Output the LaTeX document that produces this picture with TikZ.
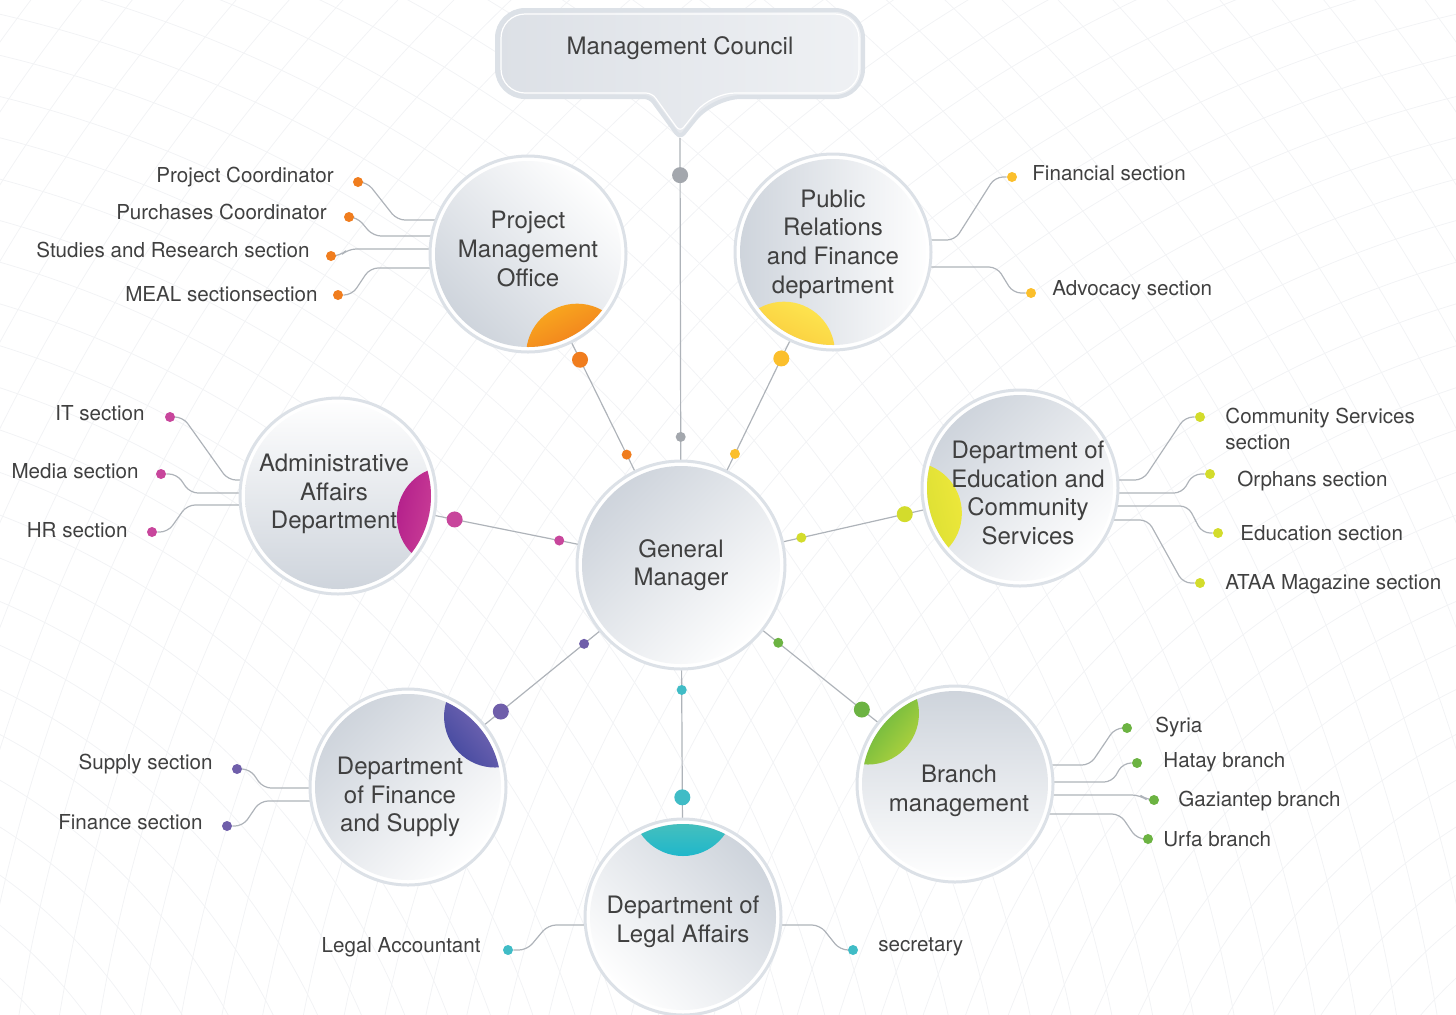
\documentclass[tikz,border=0pt]{standalone}
\usepackage{fontspec}
\setmainfont{TeX Gyre Heros}
\usetikzlibrary{calc,backgrounds}

\definecolor{textgray}{HTML}{404040}
\definecolor{ringgray}{HTML}{DCE1E7}
\definecolor{discgray}{HTML}{CDD3DB}
\definecolor{linkgray}{HTML}{AEB3B9}
\definecolor{meshgray}{HTML}{F2F3F5}
\definecolor{calloutA}{HTML}{DCE0E6}
\definecolor{calloutB}{HTML}{EFF1F4}
\definecolor{councilC}{HTML}{A3A7AD}
\definecolor{orangeA}{HTML}{F8A41E}
\definecolor{orangeB}{HTML}{E84E1C}
\definecolor{orangeC}{HTML}{F07D1E}
\definecolor{yellowA}{HTML}{FDE34E}
\definecolor{yellowB}{HTML}{F7B12A}
\definecolor{yellowC}{HTML}{FBBF2C}
\definecolor{pinkA}{HTML}{EC6BA7}
\definecolor{pinkB}{HTML}{B5228C}
\definecolor{pinkC}{HTML}{C8469C}
\definecolor{limeA}{HTML}{ECE73A}
\definecolor{limeB}{HTML}{C4D42A}
\definecolor{limeC}{HTML}{D3DC2C}
\definecolor{purpleA}{HTML}{A785C7}
\definecolor{purpleB}{HTML}{4A4DA2}
\definecolor{purpleC}{HTML}{6F5EAA}
\definecolor{tealA}{HTML}{97D1A0}
\definecolor{tealB}{HTML}{1FB7CB}
\definecolor{tealC}{HTML}{40BCC6}
\definecolor{greenA}{HTML}{A7CF3D}
\definecolor{greenB}{HTML}{1E9A43}
\definecolor{greenC}{HTML}{6CB342}

\tikzset{
  link/.style={draw=linkgray, line width=0.6pt},
  sidelink/.style={link, rounded corners=4pt},
  bigdot/.style={circle, fill=#1, inner sep=0pt, minimum size=8pt},
  smalldot/.style={circle, fill=#1, inner sep=0pt, minimum size=5pt},
  lab/.style={font=\fontsize{10.3}{13}\selectfont, text=textgray, inner sep=0pt},
  circtext/.style={align=center, text=textgray, inner sep=0pt,
    font=\fontsize{12}{14.3}\selectfont},
  gmcircle/.style={circle, minimum size=104pt, inner sep=0pt, draw=ringgray,
    line width=1.5pt, fill=white, circtext,
    path picture={\shade[top color=white, bottom color=discgray, shading angle=-135]
      (path picture bounding box.center) circle (49.5pt);}},
  deptcircle/.style n args={5}{circle, minimum size=98pt, inner sep=0pt,
    draw=ringgray, line width=1.5pt, fill=white,
    path picture={
      \shade[top color=white, bottom color=discgray, shading angle=#1]
        (path picture bounding box.center) circle (46.5pt);
      \begin{scope}
        \clip (path picture bounding box.center) circle (46.5pt);
        \shade[left color=#3, right color=#4, shading angle=#5]
          ($(path picture bounding box.center)+(#2:56pt)$) circle (25.5pt);
      \end{scope}
    }},
}

\begin{document}
\begin{tikzpicture}[x=0.5pt,y=-0.5pt]
\useasboundingbox (0,0) rectangle (1456,1014);

% council callout
\draw[ringgray, line width=2pt, left color=calloutA, right color=calloutB, rounded corners=14pt]
  (497,10) -- (863,10) -- (863,97) -- (713,97) [rounded corners=3pt] -- (680,138)
  -- (650,97) [rounded corners=14pt] -- (497,97) -- cycle;
\draw[white, line width=0.6pt, rounded corners=12pt]
  (501,14) -- (859,14) -- (859,93) -- (711,93) [rounded corners=3pt] -- (680,132)
  -- (652,93) [rounded corners=12pt] -- (501,93) -- cycle;
\node[font=\fontsize{12}{14}\selectfont, text=textgray] (council) at (680,48) {Management Council};
\coordinate (tip) at (680,138);

% circles
\node[gmcircle] (gm) at (681,565) {General\\Manager};
\node[deptcircle={-45}{-64}{orangeA}{orangeB}{26},
  label={[circtext, yshift=2.5pt]center:{Project\\Management\\Office}}] (pmo) at (528,254) {};
\node[deptcircle={-90}{-116}{yellowA}{yellowB}{-26},
  label={[circtext, yshift=4pt]center:{Public\\Relations\\and Finance\\department}}] (prf) at (833,252) {};
\node[deptcircle={0}{-11}{pinkA}{pinkB}{-101},
  label={[circtext, xshift=-2pt, yshift=1pt]center:{Administrative\\Affairs\\Department}}] (adm) at (338,496) {};
\node[deptcircle={-135}{193}{limeA}{limeB}{-77},
  label={[circtext, xshift=4pt, yshift=-2.5pt]center:{Department of\\Education and\\Community\\Services}}] (edu) at (1020,488) {};
\node[deptcircle={-135}{39}{purpleA}{purpleB}{-51},
  label={[circtext, xshift=-4pt, yshift=-5pt]center:{Department\\of Finance\\and Supply}}] (fin) at (408,787) {};
\node[deptcircle={135}{90}{tealA}{tealB}{0},
  label={[circtext, yshift=-2.5pt]center:{Department of\\Legal Affairs}}] (leg) at (683,917) {};
\node[deptcircle={180}{141}{greenA}{greenB}{-129},
  label={[circtext, xshift=2pt, yshift=-3.5pt]center:{Branch\\management}}] (br) at (955,784) {};

% section dots
\node[smalldot=orangeC] (pc) at (358,182) {};
\node[smalldot=orangeC] (pu) at (349,217) {};
\node[smalldot=orangeC] (sr) at (331,256) {};
\node[smalldot=orangeC] (me) at (338,295) {};
\node[smalldot=yellowC] (fs) at (1012,177) {};
\node[smalldot=yellowC] (as) at (1031,293) {};
\node[smalldot=pinkC] (it) at (170,417) {};
\node[smalldot=pinkC] (md) at (161,474) {};
\node[smalldot=pinkC] (hr) at (152,532) {};
\node[smalldot=limeC] (cs) at (1200,417) {};
\node[smalldot=limeC] (or) at (1210,474) {};
\node[smalldot=limeC] (ed) at (1218,533) {};
\node[smalldot=limeC] (at) at (1200,583) {};
\node[smalldot=purpleC] (su) at (237,769) {};
\node[smalldot=purpleC] (fi) at (227,826) {};
\node[smalldot=tealC] (la) at (508,950) {};
\node[smalldot=tealC] (se) at (853,950) {};
\node[smalldot=greenC] (sy) at (1127,728) {};
\node[smalldot=greenC] (ha) at (1137,763) {};
\node[smalldot=greenC] (ga) at (1154,800) {};
\node[smalldot=greenC] (ur) at (1148,839) {};

% section labels
\node[lab, anchor=east] at (334,177) {Project Coordinator};
\node[lab, anchor=east] at (327,212) {Purchases Coordinator};
\node[lab, anchor=east] at (310,250) {Studies and Research section};
\node[lab, anchor=east] at (318,294) {MEAL sectionsection};
\node[lab, anchor=west] at (1032,173) {Financial section};
\node[lab, anchor=west] at (1052,290) {Advocacy section};
\node[lab, anchor=east] at (145,413) {IT section};
\node[lab, anchor=east] at (139,471) {Media section};
\node[lab, anchor=east] at (128,530) {HR section};
\node[lab, anchor=west, align=left] at (1225,429) {Community Services\\section};
\node[lab, anchor=west] at (1237,481) {Orphans section};
\node[lab, anchor=west] at (1240,533) {Education section};
\node[lab, anchor=west] at (1225,584) {ATAA Magazine section};
\node[lab, anchor=east] at (213,764) {Supply section};
\node[lab, anchor=east] at (203,822) {Finance section};
\node[lab, anchor=east] at (481,947) {Legal Accountant};
\node[lab, anchor=west] at (878,947) {secretary};
\node[lab, anchor=west] at (1155,727) {Syria};
\node[lab, anchor=west] at (1163,762) {Hatay branch};
\node[lab, anchor=west] at (1178,801) {Gaziantep branch};
\node[lab, anchor=west] at (1163,839) {Urfa branch};

\begin{scope}[on background layer]
% faint mesh
\begin{scope}
\clip (0,0) rectangle (1456,1014);
\foreach \r in {400,440,...,2200}
{
\draw[meshgray, line width=0.4pt] (-300,1300) circle (\r);
\draw[meshgray, line width=0.4pt] (1756,1300) circle (\r);
}
\end{scope}

% main links
\draw[link] (tip) -- (gm.center) node[pos=0.087, bigdot=councilC] {} node[pos=0.70, smalldot=councilC] {};
\foreach \d/\c in {pmo/orangeC, prf/yellowC, adm/pinkC, edu/limeC, fin/purpleC, leg/tealC, br/greenC}
{
\draw[link] (\d.center) -- (gm.center) node[pos=0.34, bigdot=\c] {} node[pos=0.645, smalldot=\c] {};
}

% side links
\draw[sidelink] (pc) -- (367,182) -- (397,220) -- (pmo.center |- 0,220);
\draw[sidelink] (pu) -- (357,217) -- (373,236) -- (pmo.center |- 0,236);
\draw[sidelink] (sr) -- (340,256) -- (348,249) -- (pmo.center |- 0,249);
\draw[sidelink] (me) -- (352,295) -- (370,268) -- (pmo.center |- 0,268);
\draw[sidelink] (prf.center |- 0,240) -- (955,240) -- (995,177) -- (fs);
\draw[sidelink] (prf.center |- 0,267) -- (997,267) -- (1013,293) -- (as);
\draw[sidelink] (it) -- (183,417) -- (228,480) -- (adm.center |- 0,480);
\draw[sidelink] (md) -- (177,474) -- (190,493) -- (adm.center |- 0,493);
\draw[sidelink] (hr) -- (168,532) -- (187,505) -- (adm.center |- 0,505);
\draw[sidelink] (edu.center |- 0,480) -- (1143,480) -- (1185,417) -- (cs);
\draw[sidelink] (edu.center |- 0,493) -- (1182,493) -- (1193,474) -- (or);
\draw[sidelink] (edu.center |- 0,506) -- (1188,506) -- (1202,533) -- (ed);
\draw[sidelink] (edu.center |- 0,520) -- (1148,520) -- (1183,583) -- (at);
\draw[sidelink] (su) -- (250,769) -- (263,788) -- (fin.center |- 0,788);
\draw[sidelink] (fi) -- (243,826) -- (260,801) -- (fin.center |- 0,801);
\draw[sidelink] (la) -- (527,950) -- (548,925) -- (leg.center |- 0,925);
\draw[sidelink] (leg.center |- 0,925) -- (820,925) -- (840,950) -- (se);
\draw[sidelink] (br.center |- 0,765) -- (1090,765) -- (1115,728) -- (sy);
\draw[sidelink] (br.center |- 0,782) -- (1112,782) -- (1123,763) -- (ha);
\draw[sidelink] (br.center |- 0,795) -- (1140,795) -- (1147,800) -- (ga);
\draw[sidelink] (br.center |- 0,814) -- (1120,814) -- (1137,839) -- (ur);
\end{scope}
\end{tikzpicture}
\end{document}
